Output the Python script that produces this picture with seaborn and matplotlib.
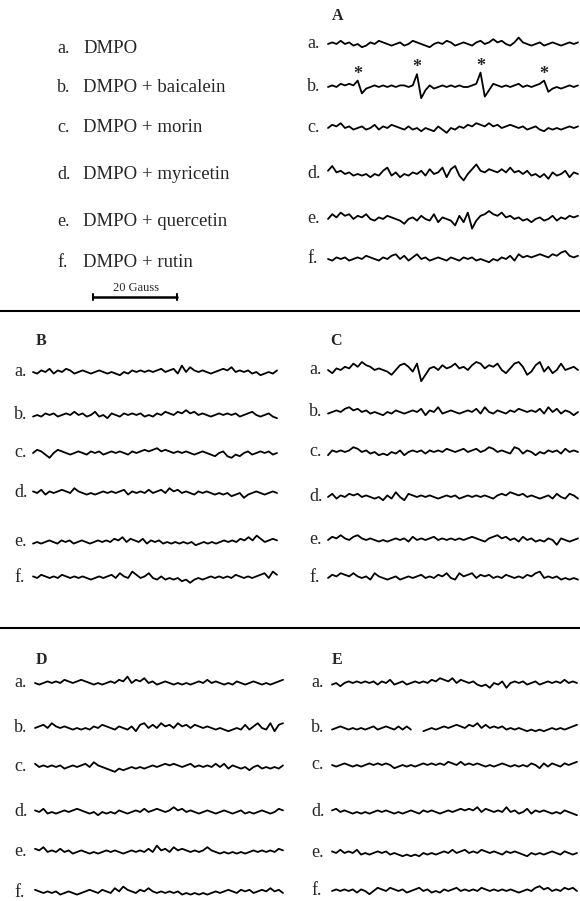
import numpy as np
import matplotlib
matplotlib.use("Agg")
import matplotlib.pyplot as plt
import seaborn as sns

sns.set_theme(style="white")
plt.rcParams['font.family'] = ['Liberation Serif', 'DejaVu Serif']

nan = np.nan

# legend list of panel A
row_letters = ["a.", "b.", "c.", "d.", "e.", "f."]
samples = ["DMPO", "DMPO + baicalein", "DMPO + morin", "DMPO + myricetin",
           "DMPO + quercetin", "DMPO + rutin"]
panel_names = ["A", "B", "C", "D", "E"]
scale_label = "20 Gauss"

# trace amplitudes (arbitrary units, up = positive)
A_a = [0,1,0,2,0,1,-1,0,-2,-1,1,0,2,1,0,-1,0,1,-1,0,2,1,0,-1,-2,0,1,0,2,1,-1,0,1,0,-1,1,2,0,1,3,1,2,0,-1,1,4,1,0,-1,0,1,-1,0,1,0,-1,0,1,0,1]
A_b = [0,1,0,2,1,2,1,4,-4,-1,0,1,0,1,0,1,0,1,1,0,1,8,-7,-2,1,-1,0,1,0,1,0,1,0,0,1,2,9,-6,-2,2,1,0,1,0,1,2,0,1,0,1,2,4,-3,-1,0,-1,0,1,0,1]
A_c = [0,2,1,3,0,1,-1,0,1,-1,0,2,-1,1,0,2,1,0,-1,1,-1,0,-2,0,-1,-2,1,-1,-3,0,-1,1,0,2,1,3,2,1,3,1,2,0,1,2,1,0,1,-1,0,1,-1,-2,0,-1,0,-1,0,1,0,1]
A_d = [2,5,1,2,0,1,-1,0,-1,0,-2,0,-1,2,4,-1,1,-2,0,-1,1,0,2,-1,3,0,1,4,-2,3,5,-1,-4,0,3,6,2,1,3,2,1,3,1,4,1,2,0,2,-1,0,-2,0,-3,1,-1,0,2,-2,1,0]
A_e = [0,3,1,4,2,3,0,2,1,3,0,-1,1,0,2,1,0,-1,-3,0,1,-1,2,0,-1,3,-2,1,0,-1,-4,2,-2,4,-6,-1,2,3,5,3,2,4,1,2,0,1,-1,0,-2,0,1,-1,0,2,-1,1,0,2,1,2]
A_f = [0,-1,1,0,1,-1,0,1,0,2,1,0,-1,1,0,2,3,0,2,-1,1,3,0,1,-1,0,1,0,-1,1,0,-1,1,0,1,-1,0,-1,-2,0,-1,1,0,2,-1,3,1,2,1,2,3,2,1,3,2,4,5,2,1,2]

B_a = [0,-1,1,0,2,-1,1,0,2,1,-1,0,1,0,-1,0,1,0,-1,0,-1,-2,0,-1,1,0,1,0,1,0,1,2,0,1,2,-1,4,0,3,1,0,1,0,-1,0,1,2,1,3,0,1,0,1,-1,0,-2,-1,0,-1,1]
B_b = [-1,0,-1,1,0,1,-1,0,1,0,2,0,1,-1,0,2,-1,0,-2,1,0,-1,1,0,1,0,1,-1,0,-1,1,0,2,1,0,2,1,3,1,2,0,1,0,-1,0,1,0,1,0,1,-1,0,1,2,0,-1,0,1,-1,-2]
B_c = [0,2,1,-1,-3,0,2,1,0,-1,0,1,0,-1,1,0,1,-1,0,1,0,1,0,-1,1,0,1,2,1,2,3,1,2,1,0,1,0,1,0,-1,0,1,0,-1,-2,0,1,-2,-3,-1,-2,0,1,-1,0,1,0,1,-1,0]
B_d = [1,0,2,-1,1,0,1,2,1,0,3,1,0,-1,0,-1,0,1,0,1,0,1,2,-1,1,0,1,0,2,0,1,2,0,3,1,2,0,1,0,-1,1,0,1,0,-1,0,-1,0,-2,-1,0,-3,-1,0,1,0,-1,0,1,0]
B_e = [-1,0,-1,0,1,0,-1,1,0,1,-1,0,1,0,-1,0,1,0,1,0,2,1,3,0,2,1,0,2,-1,1,0,1,-1,0,-1,0,-1,0,-1,0,-2,-1,0,-1,0,-1,0,1,0,1,0,2,1,3,1,4,2,0,1,2,1]
B_f = [1,0,2,1,0,1,0,2,1,0,1,0,1,0,-1,0,1,0,1,2,0,3,1,0,4,2,0,1,3,0,-1,1,-1,0,-1,0,-2,-1,-3,-1,0,-1,0,1,0,1,0,1,0,2,1,0,1,0,1,2,3,0,4,2]

C_a = [0,-2,1,0,2,1,4,2,5,3,2,0,1,0,-1,-3,0,3,4,2,-1,4,-7,-3,1,2,0,3,1,2,4,1,2,0,3,5,4,1,3,2,4,0,-2,1,4,5,2,-3,-1,3,5,-1,2,-2,0,4,0,1,2,0]
C_b = [-1,0,1,0,2,3,1,2,0,1,-1,0,-1,-2,0,-1,1,0,-1,0,1,0,2,-2,1,0,3,-1,0,1,0,-1,0,1,0,2,-1,3,0,-1,1,0,-1,1,0,2,1,0,1,0,2,-1,3,0,2,-1,1,0,-2,0]
C_c = [-2,1,0,1,0,1,3,2,0,1,-1,0,-2,-1,-2,0,-1,1,-2,0,1,0,1,-1,1,0,1,0,2,1,0,1,2,0,1,2,0,1,3,2,0,1,0,-1,3,2,-1,1,0,-2,0,-1,1,0,1,-1,2,0,1,0]
C_d = [0,2,-1,1,0,2,1,2,0,1,0,-1,0,-2,1,-1,3,0,-2,2,1,0,1,0,1,0,-1,0,1,0,1,-1,0,1,0,1,0,1,0,-1,1,2,1,3,2,1,2,0,1,0,-1,0,1,-1,2,0,-1,2,1,-1]
C_e = [0,2,1,3,1,0,2,3,1,0,1,0,-1,0,-1,0,1,0,1,-1,2,0,1,0,1,2,0,1,0,1,0,1,0,1,2,1,0,-1,1,2,3,1,2,0,1,-1,2,0,1,-1,0,-1,1,0,-3,1,0,-1,0,1]
C_f = [0,2,1,3,2,1,3,1,0,1,-1,3,1,0,-1,0,1,-1,0,1,0,1,2,0,1,0,2,1,3,0,-1,3,1,2,3,0,2,1,2,0,1,0,2,1,0,1,0,2,1,3,4,0,1,0,1,-1,0,-1,0,-1]

D_a = [0,-1,0,1,0,1,0,2,1,0,1,2,1,0,-1,0,-1,0,1,0,2,1,4,0,2,1,3,0,1,-1,0,1,0,-1,0,-1,0,-1,0,1,0,2,0,1,0,-1,0,-1,1,0,-1,0,1,0,-1,0,-1,0,1,2]
D_b = [0,1,2,0,3,1,0,1,0,-1,0,-1,0,-1,1,0,2,1,0,-1,1,0,-1,1,-2,2,3,0,2,0,3,1,2,0,3,1,2,0,2,1,0,1,0,-1,0,-1,-2,-1,0,-1,2,-1,1,3,0,-1,3,-2,2,3]
D_c = [2,0,1,0,1,0,1,-1,0,1,0,1,2,0,3,1,0,-1,-2,-3,-1,-2,-1,0,-1,0,-1,0,1,0,1,2,1,2,1,0,1,2,0,1,0,1,0,2,0,2,-1,1,0,-1,0,-2,0,1,-1,0,-1,0,-1,1]
D_d = [1,0,2,-1,0,-1,0,1,0,1,2,1,0,-1,0,-2,0,-1,0,-1,1,0,-1,0,1,0,2,0,1,2,1,0,1,3,1,2,0,1,0,-1,0,1,0,-1,0,1,0,-1,0,1,-1,0,-1,0,1,0,-1,0,2,1]
D_e = [2,1,3,0,1,0,2,0,1,-1,0,1,0,-1,0,-1,0,1,0,1,0,-1,0,1,0,1,0,2,0,4,1,2,0,3,1,2,1,0,1,0,1,3,1,0,-1,0,-1,0,-1,0,-1,0,1,0,1,0,1,0,2,1]
D_f = [2,1,0,1,0,1,-1,0,1,0,-1,0,1,2,1,0,2,1,0,3,1,4,2,1,0,2,1,3,1,0,1,0,1,0,1,-1,0,-1,0,-1,0,-1,0,1,0,1,2,1,0,2,1,2,0,1,2,1,3,1,2,0]

E_a = [-1,0,-2,0,1,0,1,0,1,0,1,-1,1,0,2,-1,0,1,-1,0,1,0,1,0,2,1,3,2,1,3,0,2,1,0,1,-1,-2,-1,-3,0,-1,1,-3,0,1,0,1,-1,0,1,-1,0,1,0,1,0,2,0,1,0]
E_b = [-1,0,1,0,-1,0,-1,0,-1,0,1,-1,0,1,0,-1,1,-1,1,-1,nan,nan,-2,-1,0,-1,0,1,0,1,2,1,0,2,1,3,0,2,0,1,0,1,-1,0,-1,0,-1,-2,-1,-2,-1,-2,-1,0,-1,0,-1,0,1,2]
E_c = [0,-1,0,1,0,-1,0,-1,0,1,0,1,0,1,0,-2,-1,0,-1,0,-1,0,1,0,1,0,1,0,2,1,0,2,0,1,0,1,0,-1,0,-1,0,1,0,-1,0,-1,0,-1,1,0,-2,1,-1,1,0,-1,1,0,1,2]
E_d = [1,2,0,1,0,-1,0,-1,0,-1,0,1,0,1,0,-1,0,-1,0,1,0,-1,1,0,1,0,-1,0,1,0,1,2,1,2,1,3,0,2,1,0,1,0,3,0,1,-1,0,2,-1,1,0,1,0,-1,0,-1,1,0,-1,-2]
E_e = [1,0,2,0,1,0,2,-1,0,-1,0,1,0,1,-1,0,-1,-2,-1,-2,-1,-2,0,-1,0,-1,0,1,0,2,0,1,2,0,1,0,2,1,0,1,0,-1,1,0,1,0,-1,-2,0,-1,0,-1,0,1,0,-1,1,0,-1,0]
E_f = [0,1,0,1,0,1,-1,1,0,-2,0,2,1,0,2,1,0,1,-1,0,1,2,0,1,-1,0,-1,1,0,1,2,0,1,0,1,0,2,1,0,1,0,1,0,1,0,-1,0,1,0,2,3,1,2,0,1,0,2,1,2,0]

# indices in A_b that carry the asterisks
star_idx = [7, 21, 36, 51]

fig = plt.figure(figsize=(5.8, 9.01), dpi=100)
ax = fig.add_axes([0, 0, 1, 1])
ax.set_xlim(0, 580)
ax.set_ylim(901, 0)
ax.axis('off')

AMP = 1.6  # px per unit


def trace(vals, x0, x1, base):
    v = np.array(vals, dtype=float)
    x = np.linspace(x0, x1, len(v))
    y = base - AMP * v
    ok = ~np.isnan(v)
    # split on gaps
    edges = np.flatnonzero(np.diff(np.r_[0, ok.astype(int), 0]))
    for s, e in zip(edges[::2], edges[1::2]):
        sns.lineplot(x=x[s:e], y=y[s:e], ax=ax, color='black', lw=1.3,
                     estimator=None, sort=False)
    return x, y


# panel layout: (letter pos, label x, trace x0, x1, trace baselines)
panels = {
    "A": dict(lab=(332, 20), lx=307, x0=328, x1=578,
              ys=[44, 87, 128, 174, 219, 259],
              data=[A_a, A_b, A_c, A_d, A_e, A_f]),
    "B": dict(lab=(36, 345), lx=14, x0=33, x1=277,
              ys=[372, 415, 453, 493, 542, 578],
              data=[B_a, B_b, B_c, B_d, B_e, B_f]),
    "C": dict(lab=(330, 345), lx=309, x0=328, x1=578,
              ys=[370, 412, 452, 497, 540, 578],
              data=[C_a, C_b, C_c, C_d, C_e, C_f]),
    "D": dict(lab=(36, 664), lx=14, x0=35, x1=283,
              ys=[683, 728, 767, 812, 852, 893],
              data=[D_a, D_b, D_c, D_d, D_e, D_f]),
    "E": dict(lab=(332, 664), lx=311, x0=332, x1=577,
              ys=[683, 728, 765, 812, 853, 891],
              data=[E_a, E_b, E_c, E_d, E_e, E_f]),
}

for name in panel_names:
    p = panels[name]
    ax.text(p["lab"][0], p["lab"][1], name, fontsize=11.5, fontweight='bold',
            ha='left', va='baseline')
    for letter, base, vals in zip(row_letters, p["ys"], p["data"]):
        ax.text(p["lx"], base + 4, letter, fontsize=13, ha='left', va='baseline')
        x, y = trace(vals, p["x0"], p["x1"], base)
        if name == "A" and letter == "b.":
            for i in star_idx:
                ax.text(x[i], y[i] - 2, "*", fontsize=13, fontweight='bold',
                        ha='center', va='baseline')

# sample list
list_ys = [53, 92, 132, 179, 226, 267]
for letter, s, yy in zip(row_letters, samples, list_ys):
    ax.text(57, yy, letter, fontsize=13, ha='left', va='baseline')
    ax.text(83, yy, s, fontsize=13.5, ha='left', va='baseline')

# scale bar
ax.plot([93, 177], [297, 297], color='black', lw=1.8)
ax.plot([93, 93], [294, 300], color='black', lw=1.5)
ax.plot([177, 177], [294, 300], color='black', lw=1.5)
ax.text(136, 291, scale_label, fontsize=9, ha='center', va='baseline')

# separators
ax.plot([0, 580], [311, 311], color='black', lw=1.5)
ax.plot([0, 580], [628, 628], color='black', lw=1.5)

fig.savefig("out.png", dpi=100)
